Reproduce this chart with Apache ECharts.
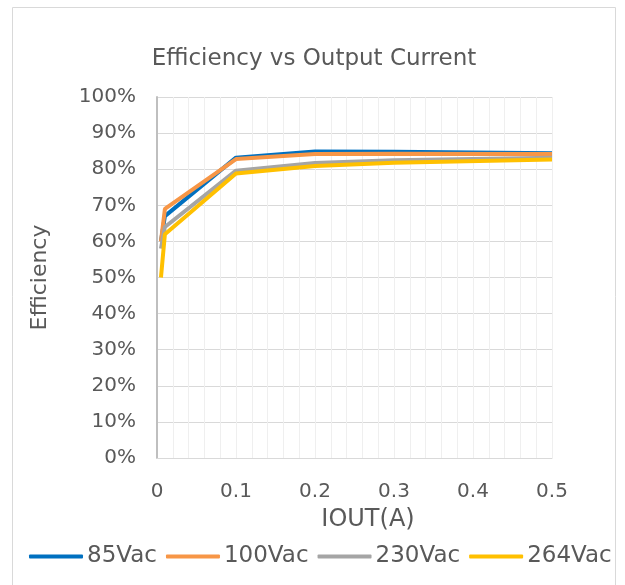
<!DOCTYPE html>
<html><head><meta charset="utf-8">
<script src="https://cdn.jsdelivr.net/npm/echarts@6/dist/echarts.min.js"></script>
<style>html,body{margin:0;padding:0;background:#fff}#c{width:625px;height:585px}</style>
</head><body><div id="c"></div>
<script>
const seriesNames = ['85Vac', '100Vac', '230Vac', '264Vac'];
const colors = ['#0070C0', '#F79646', '#A5A5A5', '#FFC000'];
const iout = [0.005, 0.01, 0.1, 0.2, 0.3, 0.5];
const eff85 = [60, 67, 83.2, 84.9, 84.8, 84.4];
const eff100 = [60, 69, 82.8, 84.2, 84.3, 84.2];
const eff230 = [58, 64, 79.6, 81.7, 82.5, 83.2];
const eff264 = [50, 62, 78.8, 80.9, 81.8, 82.7];
const allEff = [eff85, eff100, eff230, eff264];

const font = 'DejaVu Sans';
const chart = echarts.init(document.getElementById('c'));
chart.setOption({
  animation: false,
  textStyle: { fontFamily: font, color: '#595959' },
  graphic: [{ type: 'rect', shape: { x: 12.5, y: 7.5, width: 603, height: 600 },
    style: { fill: 'none', stroke: '#d9d9d9', lineWidth: 1 }, silent: true }],
  title: { text: 'Efficiency vs Output Current', left: 309, top: 43, textAlign: 'center',
    textStyle: { fontFamily: font, fontSize: 23, fontWeight: 'normal', color: '#595959' } },
  grid: { left: 157, top: 97, width: 395, height: 361, containLabel: false },
  legend: { bottom: 12, left: 24, itemGap: 9, itemWidth: 54, itemHeight: 4, icon: 'roundRect',
    data: seriesNames,
    textStyle: { fontFamily: font, fontSize: 23, color: '#595959', padding: [0, 0, 0, -1] } },
  xAxis: { type: 'value', min: 0, max: 0.5, interval: 0.1,
    name: 'IOUT(A)', nameLocation: 'middle', nameGap: 50,
    nameTextStyle: { fontFamily: font, fontSize: 24, color: '#595959', padding: [0, 0, 0, 27] },
    axisLine: { show: true, lineStyle: { color: '#d9d9d9' } },
    axisTick: { show: false },
    axisLabel: { fontFamily: font, fontSize: 20, color: '#595959', margin: 24,
      formatter: v => v === 0 ? '0' : v.toFixed(1) },
    splitLine: { show: true, lineStyle: { color: '#efefef', width: 1 } },
    minorTick: { show: false, splitNumber: 5 },
    minorSplitLine: { show: true, lineStyle: { color: '#efefef', width: 1 } } },
  yAxis: { type: 'value', min: 0, max: 100, interval: 10,
    name: 'Efficiency', nameLocation: 'middle', nameGap: 106, nameRotate: 90,
    nameTextStyle: { fontFamily: font, fontSize: 22, color: '#595959' },
    axisLine: { show: true, lineStyle: { color: '#bfbfbf', width: 2 } },
    axisTick: { show: false },
    axisLabel: { fontFamily: font, fontSize: 20, color: '#595959', margin: 21, formatter: '{value}%' },
    splitLine: { show: true, lineStyle: { color: '#d9d9d9', width: 1 } } },
  series: seriesNames.map((n, i) => ({
    name: n, type: 'line', showSymbol: false, symbol: 'none',
    lineStyle: { color: colors[i], width: 4 }, itemStyle: { color: colors[i] },
    data: iout.map((x, j) => [x, allEff[i][j]])
  }))
});
</script></body></html>
